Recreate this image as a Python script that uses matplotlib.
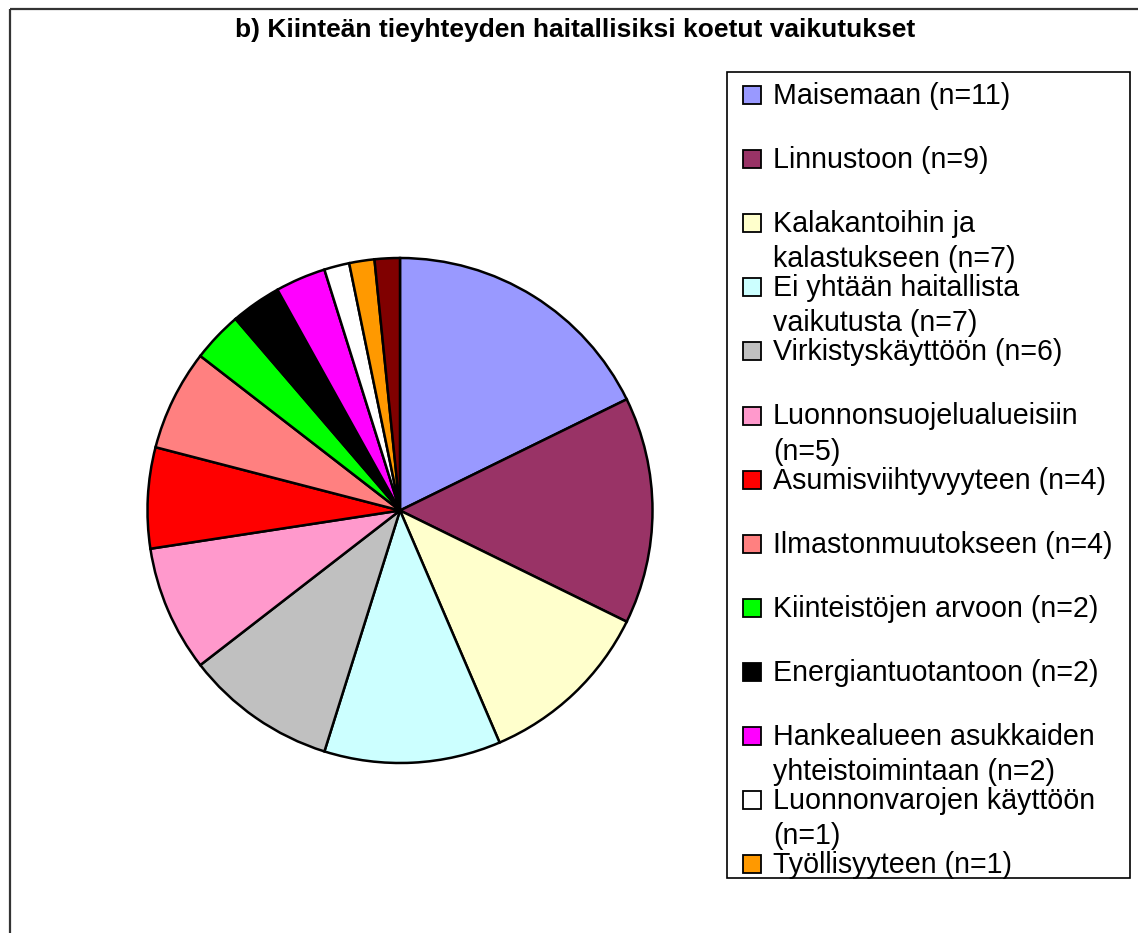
import matplotlib
matplotlib.use("Agg")
import matplotlib.pyplot as plt
from matplotlib.patches import Rectangle

plt.rcParams['font.family'] = ['Liberation Sans', 'DejaVu Sans']

# ---- data ----
title = "b) Kiinteän tieyhteyden haitallisiksi koetut vaikutukset"
values = [11, 9, 7, 7, 6, 5, 4, 4, 2, 2, 2, 1, 1, 1]
colors = ['#9999FF', '#993366', '#FFFFCC', '#CCFFFF', '#C0C0C0', '#FF99CC',
          '#FF0000', '#FF8080', '#00FF00', '#000000', '#FF00FF', '#FFFFFF',
          '#FF9900', '#800000']
legend_labels = [
    "Maisemaan (n=11)",
    "Linnustoon (n=9)",
    "Kalakantoihin ja\nkalastukseen (n=7)",
    "Ei yhtään haitallista\nvaikutusta (n=7)",
    "Virkistyskäyttöön (n=6)",
    "Luonnonsuojelualueisiin\n(n=5)",
    "Asumisviihtyvyyteen (n=4)",
    "Ilmastonmuutokseen (n=4)",
    "Kiinteistöjen arvoon (n=2)",
    "Energiantuotantoon (n=2)",
    "Hankealueen asukkaiden\nyhteistoimintaan (n=2)",
    "Luonnonvarojen käyttöön\n(n=1)",
    "Työllisyyteen (n=1)",
]

W, H = 1138, 933
fig = plt.figure(figsize=(W / 100, H / 100), dpi=100)
fig.patch.set_facecolor('white')

# overlay in pixel coordinates
ov = fig.add_axes([0, 0, 1, 1])
ov.set_xlim(0, W)
ov.set_ylim(H, 0)
ov.axis('off')

# outer chart frame (extends beyond right/bottom)
ov.plot([10, 10], [9, H + 5], color='#333333', lw=1.6, solid_capstyle='butt')
ov.plot([10, W + 5], [9, 9], color='#333333', lw=1.6, solid_capstyle='butt')

# title
ov.text(575, 30, title, ha='center', va='center', fontsize=19, fontweight='bold')

# legend box
ov.add_patch(Rectangle((727, 72), 403, 806, facecolor='white', edgecolor='black', lw=1.2))
y0, step, line2 = 95, 64.1, 35
for i, lab in enumerate(legend_labels):
    yc = y0 + i * step
    ov.add_patch(Rectangle((743, yc - 9), 18, 18, facecolor=colors[i],
                           edgecolor='black', lw=1.3))
    lines = lab.split("\n")
    for j, ln in enumerate(lines):
        ov.text(773, yc + 1 + j * line2, ln, ha='left', va='center', fontsize=20.6)

# pie
cx, cy, r = 400, 510.5, 252.5
ax = fig.add_axes([(cx - r) / W, (H - cy - r) / H, 2 * r / W, 2 * r / H])
wedges, _ = ax.pie(values, colors=colors, startangle=90, counterclock=False,
                   radius=1, wedgeprops=dict(edgecolor='black', linewidth=1.8))
for w in wedges:
    w.set_clip_on(False)
ax.set_xlim(-1, 1)
ax.set_ylim(-1, 1)
ax.set_aspect('equal')
ax.axis('off')

fig.savefig('out.png', dpi=100, facecolor='white')
